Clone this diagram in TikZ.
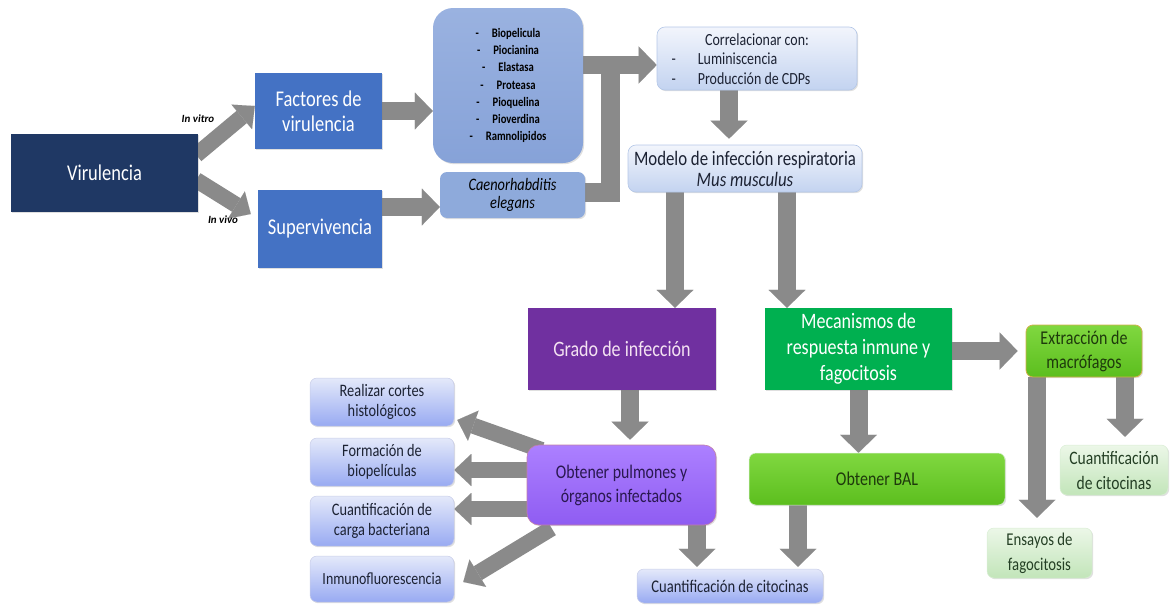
\documentclass[tikz,border=0pt]{standalone}
\usepackage{fontspec}
\setmainfont{Carlito}[FakeStretch=0.82]
\newfontfamily\lblfont{Carlito}
\usetikzlibrary{arrows.meta,shadows,calc}
\definecolor{navy}{HTML}{1F3864}
\definecolor{midblue}{HTML}{4472C4}
\definecolor{listblue}{HTML}{8EAADB}
\definecolor{listtop}{HTML}{9AB2E0}
\definecolor{listbot}{HTML}{86A2D8}
\definecolor{agray}{HTML}{8A8A8A}
\definecolor{purp}{HTML}{7030A0}
\definecolor{grn}{HTML}{00B050}
\definecolor{txtdark}{HTML}{1C2233}
\definecolor{lbBorder}{HTML}{B4C7E7}
\definecolor{lbTop}{HTML}{F2F5FC}
\definecolor{lbBot}{HTML}{C3D3F0}
\definecolor{lavBorder}{HTML}{C8CDE8}
\definecolor{lavTop}{HTML}{E4E9FA}
\definecolor{lavBot}{HTML}{98AAF2}
\definecolor{lgBorder}{HTML}{D9EED4}
\definecolor{lgTop}{HTML}{ECF7E8}
\definecolor{lgBot}{HTML}{C2E5B9}
\definecolor{lgText}{HTML}{243F24}
\definecolor{pulA}{HTML}{AC80FF}
\definecolor{pulB}{HTML}{8F5CF2}
\definecolor{pulD}{HTML}{C27FA8}
\definecolor{balA}{HTML}{80D840}
\definecolor{balB}{HTML}{5CBE1E}
\definecolor{extB}{HTML}{D2B04A}
\definecolor{gtxt}{HTML}{1E3A0C}
\definecolor{ptxt}{HTML}{2A1850}
\definecolor{gratxt}{HTML}{F4E2F2}
\pgfdeclarelayer{bg}
\pgfsetlayers{bg,main}
\tikzset{
  box/.style={align=center, inner sep=2pt, text=txtdark,
    drop shadow={shadow xshift=1.2pt, shadow yshift=-1.2pt, opacity=0.25}},
  darkbox/.style={box, text=white},
  lightblue/.style={box, rounded corners=8pt, draw=lbBorder, line width=0.6pt,
    top color=lbTop, bottom color=lbBot},
  lavbox/.style={box, rounded corners=7pt, draw=lavBorder, line width=0.5pt,
    top color=lavTop, bottom color=lavBot},
  greenlight/.style={box, rounded corners=7pt, draw=lgBorder, line width=0.5pt,
    top color=lgTop, bottom color=lgBot, text=lgText},
  garrow/.style={draw=agray, line width=18pt, line cap=butt,
    -{Triangle[width=37pt,length=18pt,line width=0.01pt]}},
  sarrow/.style={draw=agray, line width=16pt, line cap=butt,
    -{Triangle[width=32pt,length=17pt,line width=0.01pt]}},
  lbl/.style={font=\lblfont\fontsize{11}{12}\selectfont\bfseries\itshape, text=black, inner sep=0pt},
}
\begin{document}
\begin{tikzpicture}[x=1pt,y=-1pt]
\useasboundingbox (0,0) rectangle (1173,605);
% top row
\node[darkbox, fill=navy, minimum width=187pt, minimum height=78pt,
  font=\fontsize{22.5}{26}\selectfont] (vir) at (104.5,173) {Virulencia};
\node[darkbox, fill=midblue, minimum width=127pt, minimum height=76pt,
  font=\fontsize{22.5}{25}\selectfont] (fac) at (318.5,111) {Factores de\\virulencia};
\node[darkbox, fill=midblue, minimum width=124pt, minimum height=78pt,
  font=\fontsize{22.5}{25}\selectfont] (sup) at (320,229) {Supervivencia};
\node[box, rounded corners=20pt, top color=listtop, bottom color=listbot, minimum width=150pt, minimum height=155pt,
  font=\fontsize{13}{17.3}\selectfont\bfseries, text=black] (list) at (508,85.5)
  {-\hspace{13pt}Biopelicula\\-\hspace{13pt}Piocianina\\-\hspace{13pt}Elastasa\\-\hspace{13pt}Proteasa\\-\hspace{13pt}Pioquelina\\-\hspace{13pt}Pioverdina\\-\hspace{13pt}Ramnolipidos};
\node[box, rounded corners=7pt, fill=listblue, minimum width=145pt, minimum height=46pt,
  font=\fontsize{17.5}{18}\selectfont\itshape, text=black] (cel) at (512.5,195) {Caenorhabditis\\elegans};
\node[lightblue, minimum width=200pt, minimum height=63pt,
  font=\fontsize{17}{19.5}\selectfont] (corr) at (757,58.5)
  {\raisebox{-3.5pt}[\height][\depth]{Correlacionar con:}\\
   \hspace*{-32pt}\raisebox{-3.5pt}[\height][\depth]{\begin{tabular}[t]{@{}l@{\hspace{22pt}}l@{}}-&Luminiscencia\\-&Producción de CDPs\end{tabular}}};
\node[lightblue, minimum width=234pt, minimum height=47pt,
  font=\fontsize{20.5}{21}\selectfont] (mod) at (745,168.5)
  {Modelo de infección respiratoria\\\textit{Mus musculus}};
% middle row
\node[box, fill=purp, text=gratxt, minimum width=188pt, minimum height=82pt,
  font=\fontsize{22}{26}\selectfont] (gra) at (622,349) {Grado de infección};
\node[darkbox, fill=grn, minimum width=187pt, minimum height=82pt,
  font=\fontsize{22}{26}\selectfont] (mec) at (858.5,349) {Mecanismos de\\respuesta inmune y\\fagocitosis};
\node[box, rounded corners=7pt, draw=extB, line width=0.8pt, top color=balA, bottom color=balB,
  text=gtxt, minimum width=116pt, minimum height=52pt,
  font=\fontsize{19.5}{24}\selectfont] (ext) at (1084,351) {Extracción de\\macrófagos};
\node[greenlight, minimum width=108pt, minimum height=50pt,
  font=\fontsize{19}{25}\selectfont] (cr) at (1114,470) {Cuantificación\\de citocinas};
\node[greenlight, minimum width=105pt, minimum height=50pt,
  font=\fontsize{18}{25}\selectfont] (ens) at (1039.5,553) {Ensayos de\\fagocitosis};
\node[box, rounded corners=7pt, draw=lgBorder, line width=0.5pt, top color=balA, bottom color=balB,
  text=gtxt, minimum width=256pt, minimum height=52pt,
  font=\fontsize{19.5}{22}\selectfont] (bal) at (877,479) {Obtener BAL};
\node[box, rounded corners=12pt, draw=pulD, line width=0.6pt, top color=pulA, bottom color=pulB,
  text=ptxt, minimum width=189pt, minimum height=80pt,
  font=\fontsize{19.3}{24}\selectfont] (pul) at (621.5,485) {Obtener pulmones y\\órganos infectados};
\node[lavbox, minimum width=144pt, minimum height=48pt,
  font=\fontsize{17.5}{20}\selectfont] (rc) at (382,402) {Realizar cortes\\histológicos};
\node[lavbox, minimum width=144pt, minimum height=48pt,
  font=\fontsize{17.5}{20}\selectfont] (fb) at (382,462) {Formación de\\biopelículas};
\node[lavbox, minimum width=144pt, minimum height=50pt,
  font=\fontsize{17.5}{20}\selectfont] (cc) at (382,521) {Cuantificación de\\carga bacteriana};
\node[lavbox, minimum width=144pt, minimum height=46pt,
  font=\fontsize{17}{20}\selectfont] (inm) at (382,579) {Inmunofluorescencia};
\node[lavbox, minimum width=186pt, minimum height=34pt,
  font=\fontsize{17.8}{20}\selectfont] (cb) at (730,586) {Cuantificación de citocinas};
% labels
\node[lbl] (lv) at (198,119) {In vitro};
\node[lbl] (lvv) at (223,220) {In vivo};
% arrows
\begin{pgfonlayer}{bg}
\coordinate (a1s) at ($(vir.east)+(-2,-18)$);
\coordinate (a1e) at ($(fac.west)+(0,-5)$);
\draw[sarrow] (a1s) -- (a1e);
\coordinate (a2s) at ($(vir.east)+(-2,7)$);
\coordinate (a2e) at ($(sup.west)+(-7,-15)$);
\draw[sarrow] (a2s) -- (a2e);
\draw[garrow] (fac.east) -- (fac.east -| list.west);
\coordinate (a4s) at ($(sup.east)+(0,-22)$);
\draw[garrow] (a4s) -- (a4s -| cel.west);
\coordinate (c1) at ($(cel.east)+(-2,-3)$);
\coordinate (j) at ($(list.east)+(27,-20.5)$);
\draw[draw=agray, line width=19pt, line cap=butt, line join=miter] (c1) -| ($(j)+(0,-8)$);
\coordinate (a5s) at ($(list.east)+(-2,-20.5)$);
\draw[garrow] (a5s) -- (a5s -| corr.west);
\coordinate (a6s) at ($(corr.south)+(-28,0)$);
\draw[garrow] (a6s) -- ($(a6s |- mod.north)+(0,-6)$);
\coordinate (a7s) at ($(mod.south)+(-70,0)$);
\draw[garrow] (a7s) -- (a7s |- gra.north);
\coordinate (a8s) at ($(mod.south)+(42,0)$);
\draw[garrow] (a8s) -- (a8s |- mec.north);
\coordinate (a9s) at ($(mec.east)+(0,2)$);
\draw[garrow] (a9s) -- ($(a9s -| ext.west)+(-8,0)$);
\coordinate (a10s) at ($(gra.south)+(8,0)$);
\draw[garrow] (a10s) -- ($(a10s |- pul.north)+(0,-5)$);
\draw[garrow] (mec.south) -- (mec.south |- bal.north);
\coordinate (a12s) at ($(ext.south)+(-47,0)$);
\draw[garrow] (a12s) -- ($(a12s |- ens.north)+(0,-10)$);
\coordinate (a13s) at ($(ext.south)+(41,0)$);
\draw[garrow] (a13s) -- ($(a13s |- cr.north)+(0,-8)$);
\coordinate (a14s) at ($(bal.south)+(-79,0)$);
\draw[garrow] (a14s) -- ($(a14s |- cb.north)+(0,-2)$);
\coordinate (a15s) at ($(pul.south)+(75.5,0)$);
\draw[garrow] (a15s) -- ($(a15s |- cb.north)+(0,-2)$);
\coordinate (a16s) at ($(pul.west)+(15,-35)$);
\coordinate (a16e) at ($(rc.east)+(3,18)$);
\draw[sarrow] (a16s) -- (a16e);
\coordinate (a17s) at ($(pul.west)+(2,-15)$);
\draw[sarrow] (a17s) -- (a17s -| fb.east);
\coordinate (a18s) at ($(pul.west)+(2,24)$);
\draw[sarrow] (a18s) -- (a18s -| cc.east);
\coordinate (a19s) at ($(pul.south west)+(25,3)$);
\coordinate (a19e) at ($(inm.east)+(9,3)$);
\draw[sarrow] (a19s) -- (a19e);
\end{pgfonlayer}
\end{tikzpicture}
\end{document}
